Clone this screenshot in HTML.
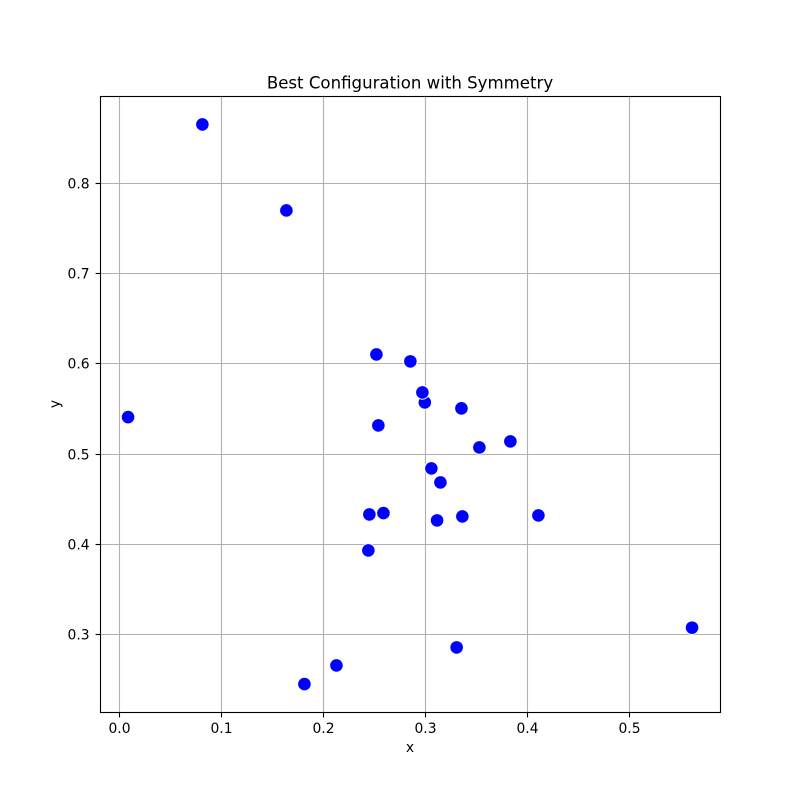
<!DOCTYPE html>
<html lang="en">
<head>
<meta charset="utf-8">
<title>Best Configuration with Symmetry</title>
<style>
html,body{margin:0;padding:0;background:#fff;}
svg{display:block;}
text{font-family:"DejaVu Sans","Liberation Sans",sans-serif;fill:#000;}
</style>
</head>
<body>
<svg id="chart" xmlns="http://www.w3.org/2000/svg" width="800" height="800" viewBox="0 0 800 800">
  <rect x="0" y="0" width="800" height="800" fill="#fff"/>
  <rect x="100" y="96" width="620" height="616" fill="#fff"/>
  <g id="grid"></g>
  <g id="points"></g>
  <rect x="100.5" y="96.5" width="620" height="616" fill="none" stroke="#000" stroke-width="1.1"/>
  <g id="ticks"></g>
  <text x="410" y="88.5" text-anchor="middle" font-size="16.6">Best Configuration with Symmetry</text>
  <text x="410" y="752" text-anchor="middle" font-size="13.89">x</text>
  <text x="0" y="0" text-anchor="middle" font-size="13.89" transform="translate(59.5,404) rotate(-90)">y</text>
</svg>
<script>
const xTicks = [0.0, 0.1, 0.2, 0.3, 0.4, 0.5];
const yTicks = [0.3, 0.4, 0.5, 0.6, 0.7, 0.8];
const xValues = [0.0812, 0.1636, 0.2519, 0.2852, 0.2994, 0.2970, 0.3353, 0.2538, 0.3833, 0.3529, 0.3058, 0.3147, 0.2588, 0.2450, 0.3114, 0.3362, 0.4108, 0.2440, 0.0083, 0.5615, 0.3306, 0.2127, 0.1813];
const yValues = [0.8654, 0.7700, 0.6104, 0.6027, 0.5572, 0.5683, 0.5506, 0.5317, 0.5140, 0.5073, 0.4840, 0.4685, 0.4345, 0.4330, 0.4264, 0.4308, 0.4319, 0.3931, 0.5409, 0.3075, 0.2856, 0.2656, 0.2449];

const NS = 'http://www.w3.org/2000/svg';
function xScale(v) { return 119.6 + v * 1019.5; }
function yScale(v) { return 634.4 - (v - 0.3) * 902; }
function snap(p) { return Math.floor(p) + 0.5; }

function makeLine(x1, y1, x2, y2, color) {
  const l = document.createElementNS(NS, 'line');
  l.setAttribute('x1', x1);
  l.setAttribute('y1', y1);
  l.setAttribute('x2', x2);
  l.setAttribute('y2', y2);
  l.setAttribute('stroke', color);
  l.setAttribute('stroke-width', '1.1');
  return l;
}
function makeText(x, y, anchor, str) {
  const t = document.createElementNS(NS, 'text');
  t.setAttribute('x', x);
  t.setAttribute('y', y);
  t.setAttribute('text-anchor', anchor);
  t.setAttribute('font-size', '13.89');
  t.textContent = str;
  return t;
}

const grid = document.getElementById('grid');
const ticks = document.getElementById('ticks');
const points = document.getElementById('points');

xTicks.forEach(function (v) {
  const px = snap(xScale(v));
  const g = makeLine(px, 96.5, px, 712.5, '#b0b0b0');
  
  
  grid.appendChild(g);
  const m = makeLine(px, 712.5, px, 717.4, '#000');
  
  
  ticks.appendChild(m);
  const t = makeText(px, 733, 'middle', v.toFixed(1));
  
  
  ticks.appendChild(t);
});

yTicks.forEach(function (v) {
  const py = snap(yScale(v));
  const g = makeLine(100.5, py, 720.5, py, '#b0b0b0');
  
  
  grid.appendChild(g);
  const m = makeLine(95.6, py, 100.5, py, '#000');
  
  
  ticks.appendChild(m);
  const t = makeText(89.6, py + 5, 'end', v.toFixed(1));
  
  
  ticks.appendChild(t);
});

xValues.forEach(function (v, i) {
  const c = document.createElementNS(NS, 'circle');
  c.setAttribute('cx', xScale(v));
  c.setAttribute('cy', yScale(yValues[i]));
  c.setAttribute('r', '6.8');
  c.setAttribute('fill', '#0000ff');
  c.setAttribute('stroke', '#ffffff');
  c.setAttribute('stroke-width', '1');
  
  
  points.appendChild(c);
});
</script>
</body>
</html>
